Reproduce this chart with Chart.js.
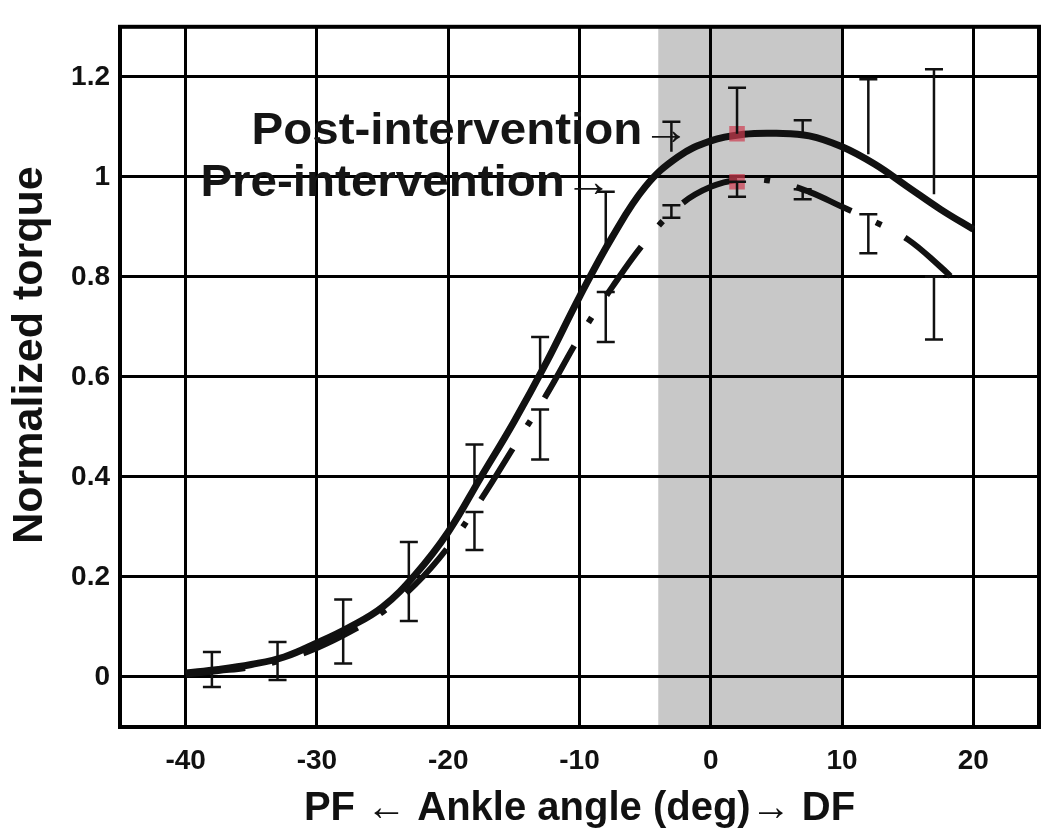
<!DOCTYPE html>
<html>
<head>
<meta charset="utf-8">
<script src="https://cdn.jsdelivr.net/npm/chart.js@4.4.1/dist/chart.umd.min.js"></script>
<style>
  html, body { margin: 0; padding: 0; background: #fff; }
  #wrap { width: 1050px; height: 840px; }
</style>
</head>
<body>
<div id="wrap"><canvas id="chart"></canvas></div>
<script>
// fitted curves
const postCurveAngles = [-40, -37.5, -35, -32.5, -30, -27.5, -25, -22.5, -20, -17.5, -15, -12.5, -10, -7.5, -5, -2.5, 0, 2.5, 5, 7.5, 10, 12.5, 15, 17.5, 20];
const postCurve = [0.008, 0.015, 0.025, 0.04, 0.068, 0.1, 0.14, 0.205, 0.29, 0.4, 0.51, 0.63, 0.76, 0.88, 0.98, 1.04, 1.072, 1.085, 1.087, 1.082, 1.06, 1.025, 0.98, 0.935, 0.895];
const preCurveAngles = [-40, -37.5, -35, -32.5, -30, -27.5, -25, -22.5, -20, -17.5, -15, -12.5, -10, -7.5, -5, -2.5, 0, 2.5, 5, 7.5, 10, 12.5, 15, 17.5, 18.5];
const preCurve = [0.005, 0.012, 0.02, 0.035, 0.058, 0.09, 0.13, 0.185, 0.26, 0.355, 0.46, 0.565, 0.68, 0.78, 0.87, 0.94, 0.98, 0.995, 0.99, 0.97, 0.94, 0.91, 0.875, 0.82, 0.795];

// measured means and error bars
const pointAngles = [-38, -33, -28, -23, -18, -13, -8, -3, 2, 7, 12, 17];
const postMean = [0.015, 0.035, 0.085, 0.19, 0.37, 0.6, 0.85, 1.05, 1.086, 1.085, 1.045, 0.965];
const postErr = [0.035, 0.035, 0.07, 0.08, 0.095, 0.08, 0.12, 0.06, 0.092, 0.028, 0.15, 0.25];
const preMean = [0.015, 0.03, 0.09, 0.19, 0.33, 0.535, 0.77, 0.943, 0.99, 0.975, 0.925, 0.8];
const preErr = [0.035, 0.036, 0.063, 0.078, 0.076, 0.1, 0.1, 0.025, 0.03, 0.02, 0.078, 0.125];

const xTicks = [-40, -30, -20, -10, 0, 10, 20];
const yTicks = [0, 0.2, 0.4, 0.6, 0.8, 1, 1.2];
const shadedRange = [-4, 10];
const highlightAngle = 2;

const toXY = (xs, ys) => xs.map((x, i) => ({ x: x, y: ys[i] }));
const markRadius = pointAngles.map(a => a === highlightAngle ? 11 : 0);
const FONT = '"Liberation Sans", Arial, sans-serif';

// gray band + frame + error bars + arrow labels
const decor = {
    id: 'decor',
    beforeDraw(chart) {
        const { ctx, chartArea: a, scales: { x } } = chart;
        ctx.save();
        ctx.fillStyle = '#fff';
        ctx.fillRect(0, 0, chart.width, chart.height);
        ctx.fillStyle = '#c8c8c8';
        const x0 = x.getPixelForValue(shadedRange[0]);
        const x1 = x.getPixelForValue(shadedRange[1]);
        ctx.fillRect(x0, a.top, x1 - x0, a.bottom - a.top);
        ctx.restore();
    },
    afterDatasetsDraw(chart) {
        const { ctx, scales: { x, y } } = chart;
        ctx.save();
        ctx.strokeStyle = '#111';
        ctx.lineWidth = 2.5;
        const cap = 9;
        const bar = (px, yFrom, yTo, capFrom) => {
            ctx.beginPath();
            ctx.moveTo(px, yFrom);
            ctx.lineTo(px, yTo);
            ctx.moveTo(px - cap, yTo);
            ctx.lineTo(px + cap, yTo);
            if (capFrom) {
                ctx.moveTo(px - cap, yFrom);
                ctx.lineTo(px + cap, yFrom);
            }
            ctx.stroke();
        };
        pointAngles.forEach((ang, i) => {
            const px = x.getPixelForValue(ang);
            bar(px, y.getPixelForValue(postMean[i]), y.getPixelForValue(postMean[i] + postErr[i]), false);
            bar(px, y.getPixelForValue(preMean[i]), y.getPixelForValue(preMean[i] - preErr[i]), i > 3);
        });
        ctx.restore();
    },
    afterDraw(chart) {
        const { ctx, chartArea: a, scales: { x, y } } = chart;
        ctx.save();
        ctx.strokeStyle = '#000';
        ctx.lineWidth = 4;
        ctx.strokeRect(a.left, a.top, a.right - a.left, a.bottom - a.top);

        ctx.fillStyle = '#151515';
        ctx.font = 'bold 44px ' + FONT;
        ctx.textAlign = 'right';
        ctx.textBaseline = 'alphabetic';
        const label = (text, xv, yv) => {
            ctx.save();
            ctx.translate(x.getPixelForValue(xv), y.getPixelForValue(yv));
            ctx.scale(1.08, 1);
            ctx.fillText(text, 0, 0);
            ctx.restore();
        };
        label('Post-intervention→', -1.6, 1.065);
        label('Pre-intervention→', -7.5, 0.961);

        // y axis title, drawn by hand so it can sit a little above centre
        ctx.save();
        ctx.translate(30, 355);
        ctx.rotate(-Math.PI / 2);
        ctx.textAlign = 'center';
        ctx.textBaseline = 'middle';
        ctx.font = 'bold 43px ' + FONT;
        ctx.fillStyle = '#111';
        ctx.fillText('Normalized torque', 0, 0);
        ctx.restore();
        ctx.restore();
    }
};

const tickFont = { family: FONT, size: 28, weight: 'bold' };

new Chart(document.getElementById('chart'), {
    type: 'line',
    data: {
        datasets: [
            {
                type: 'scatter',
                label: 'Post mean',
                data: toXY(pointAngles, postMean),
                pointStyle: 'rect',
                pointRadius: markRadius,
                backgroundColor: 'rgba(205, 60, 80, 0.7)',
                borderWidth: 0,
                order: 0
            },
            {
                type: 'scatter',
                label: 'Pre mean',
                data: toXY(pointAngles, preMean),
                pointStyle: 'rect',
                pointRadius: markRadius,
                backgroundColor: 'rgba(205, 60, 80, 0.7)',
                borderWidth: 0,
                order: 0
            },
            {
                label: 'Post-intervention',
                data: toXY(postCurveAngles, postCurve),
                borderColor: '#111',
                borderWidth: 7,
                pointRadius: 0,
                tension: 0.4,
                fill: false,
                order: 1
            },
            {
                label: 'Pre-intervention',
                data: toXY(preCurveAngles, preCurve),
                borderColor: '#111',
                borderWidth: 6,
                borderDash: [60, 27, 6, 27],
                borderCapStyle: 'butt',
                pointRadius: 0,
                tension: 0.4,
                fill: false,
                order: 2
            }
        ]
    },
    options: {
        responsive: true,
        maintainAspectRatio: false,
        animation: false,
        layout: { padding: { top: 12, right: 10, left: 0, bottom: 0 } },
        plugins: { legend: { display: false }, tooltip: { enabled: false } },
        scales: {
            x: {
                type: 'linear',
                min: -45,
                max: 25,
                afterBuildTicks: s => { s.ticks = xTicks.map(v => ({ value: v })); },
                afterFit: s => { s.height = 113; },
                grid: { color: '#000', lineWidth: 3, drawTicks: false },
                border: { display: true, color: '#000', width: 4 },
                ticks: { color: '#111', font: tickFont, padding: 17, maxRotation: 0 },
                title: {
                    display: true,
                    text: 'PF ← Ankle angle (deg)→ DF',
                    color: '#111',
                    font: { family: FONT, size: 40, weight: 'bold' },
                    padding: { top: 0, bottom: 7 }
                }
            },
            y: {
                type: 'linear',
                min: -0.1,
                max: 1.3,
                afterBuildTicks: s => { s.ticks = yTicks.map(v => ({ value: v })); },
                afterFit: s => { s.width = 120; },
                grid: { color: '#000', lineWidth: 3, drawTicks: false },
                border: { display: true, color: '#000', width: 4 },
                ticks: { color: '#111', font: tickFont, padding: 10, callback: v => String(v) }
            }
        }
    },
    plugins: [decor]
});
</script>
</body>
</html>
